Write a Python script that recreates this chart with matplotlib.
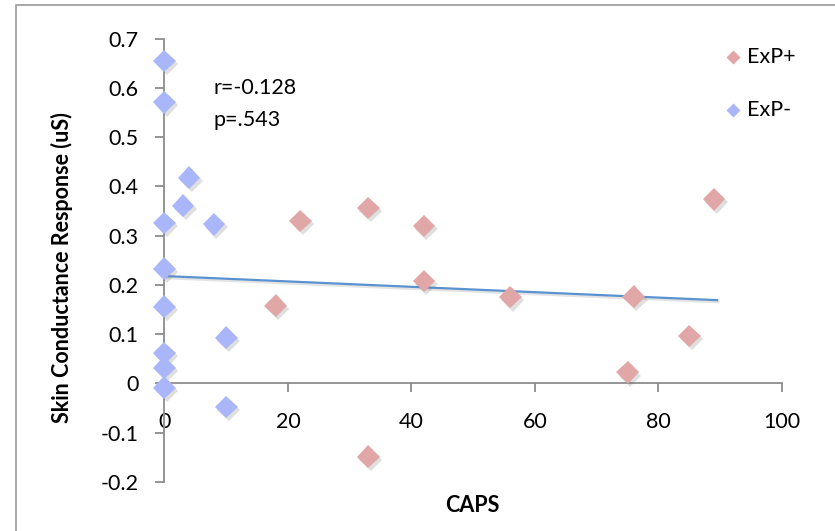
import matplotlib
matplotlib.use("Agg")
import matplotlib.pyplot as plt
import matplotlib.patheffects as pe
from matplotlib.lines import Line2D

plt.rcParams['font.family'] = ['Lato', 'DejaVu Sans']

# ExP+ group (CAPS score, skin conductance response in uS)
exp_pos_x = [18, 22, 33, 33, 42, 42, 56, 75, 76, 85, 89]
exp_pos_y = [0.158, 0.330, 0.356, -0.149, 0.320, 0.208, 0.175, 0.022, 0.176, 0.096, 0.374]

# ExP- group
exp_neg_x = [0, 0, 0, 0, 0, 0, 0, 0, 4, 3, 8, 10, 10]
exp_neg_y = [0.655, 0.571, 0.326, 0.233, 0.156, 0.061, 0.032, -0.009, 0.418, 0.361, 0.323, 0.093, -0.048]

# Linear trend line across all participants (endpoints)
trend_x = [0, 89.5]
trend_y = [0.218, 0.169]

stats_text = ["r=-0.128", "p=.543"]
x_ticks = [0, 20, 40, 60, 80, 100]
y_ticks = [-0.2, -0.1, 0, 0.1, 0.2, 0.3, 0.4, 0.5, 0.6, 0.7]

pos_color = '#E0A7A6'
neg_color = '#A9B7FA'
line_color = '#5A92CF'
axis_color = '#8C8C8C'
fs = 15.5

fig = plt.figure(figsize=(8.35, 5.31), dpi=100)
ax = fig.add_axes([0.197, 0.0928, 0.7395, 0.834])

shadow = [pe.SimplePatchShadow(offset=(1.8, -2.2), shadow_rgbFace='#707070', alpha=0.22),
          pe.Normal()]

ax.plot(trend_x, trend_y, color=line_color, lw=1.6, zorder=3,
        path_effects=[pe.SimpleLineShadow(offset=(1, -1.5), shadow_color='#909090', alpha=0.25),
                      pe.Normal()])
ax.plot(exp_pos_x, exp_pos_y, linestyle='none', marker='D', ms=11.5,
        color=pos_color, mec='none', zorder=4, path_effects=shadow)
ax.plot(exp_neg_x, exp_neg_y, linestyle='none', marker='D', ms=11.5,
        color=neg_color, mec='none', zorder=4, path_effects=shadow)

ax.set_xlim(0, 100)
ax.set_ylim(-0.2, 0.7)
ax.set_xticks(x_ticks)
ax.set_yticks(y_ticks)
ax.set_xticklabels([str(v) for v in x_ticks])
ax.set_yticklabels(['%g' % v for v in y_ticks])

for s in ['top', 'right']:
    ax.spines[s].set_visible(False)
ax.spines['bottom'].set_position(('data', 0))
for s in ['left', 'bottom']:
    ax.spines[s].set_color(axis_color)
    ax.spines[s].set_linewidth(1.3)
    ax.spines[s].set_zorder(2)
ax.tick_params(axis='both', direction='out', color=axis_color, width=1.3,
               length=6.5, labelsize=fs, labelcolor='black')
ax.tick_params(axis='y', pad=12)
ax.tick_params(axis='x', pad=14)
for ln in ax.lines:
    ln.set_clip_on(False)

fig.text(62 / 835, 1 - 268 / 531, 'Skin Conductance Response (uS)', rotation=90,
         ha='center', va='center', fontsize=fs, fontweight='bold')
fig.text(472 / 835, 1 - 506 / 531, 'CAPS', ha='center', va='center',
         fontsize=fs, fontweight='bold')

fig.text(213 / 835, 1 - 88 / 531, stats_text[0], ha='left', va='center', fontsize=fs)
fig.text(213 / 835, 1 - 120 / 531, stats_text[1], ha='left', va='center', fontsize=fs)

# legend
for yy, col, lab in [(57, pos_color, 'ExP+'), (110, neg_color, 'ExP-')]:
    fig.add_artist(Line2D([733 / 835], [1 - yy / 531], marker='D', ms=7.5,
                          color=col, mec='none', linestyle='none'))
    fig.text(747 / 835, 1 - yy / 531, lab, ha='left', va='center', fontsize=fs)

# chart area border (left and top edges visible)
fig.add_artist(Line2D([16 / 835, 16 / 835, 1.0], [0, 1 - 4.5 / 531, 1 - 4.5 / 531],
                      color='#A0A0A0', lw=1.3))

fig.savefig('out.png', dpi=100)
